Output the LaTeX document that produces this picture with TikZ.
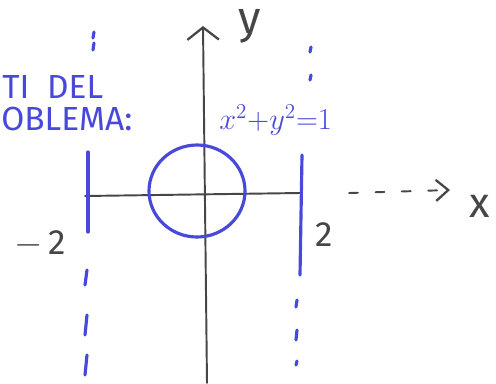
\documentclass[tikz,border=0pt]{standalone}
\usepackage{fontspec}
\setsansfont{Fira Sans}
\usetikzlibrary{arrows.meta}
\definecolor{pen}{RGB}{72,72,218}
\definecolor{lead}{RGB}{70,70,70}

\begin{document}
\begin{tikzpicture}[x=0.02cm,y=-0.02cm,
  axis/.style={draw=lead,line width=1.1pt,line cap=round},
  bound/.style={draw=pen,line width=1.8pt,line cap=round},
  note/.style={text=pen,font=\sffamily\fontsize{19}{23}\selectfont,anchor=west,inner sep=0pt},
  tick/.style={text=lead,font=\sffamily\fontsize{20}{24}\selectfont,inner sep=0pt}]
  \useasboundingbox (0,0) rectangle (496,383);
  % axes
  \coordinate (o) at (197,191);
  \coordinate (ybot) at (207,383);
  \coordinate (ytop) at (203,26);
  \coordinate (xl) at (85,196);
  \coordinate (xr) at (300,193);
  \coordinate (xtip) at (450,190);
  \draw[axis,-{Straight Barb[length=7pt,width=18pt,line width=1.3pt]}] (ybot) -- (ytop);
  \draw[axis] (xl) -- (xr);
  \draw[axis,dash pattern=on 5pt off 10pt,-{Straight Barb[length=7pt,width=12pt,line width=1.3pt]}] ([xshift=28]xr) -- (xtip);
  \node[tick,font=\sffamily\fontsize{26}{30}\selectfont] (ylab) at (250,26) {y};
  \node[tick,font=\sffamily\fontsize{24}{28}\selectfont] (xlab) at (480,206) {x};
  \node[tick] (mtwo) at (40,244) {$-$\,2};
  \node[tick] (two) at (324,235) {2};
  % circle
  \draw[bound] (o) ellipse (48 and 46);
  \node[note,font=\fontsize{17}{20}\selectfont] (eq) at (219,120) {$x^2{+}y^2{=}1$};
  % vertical boundaries
  \draw[bound] (88,152) -- (88,232);
  \draw[bound] (302,155) -- (300,275);
  \foreach \a/\b in {270/285,315/335,355/375} \draw[bound] (87,\a) -- (85,\b);
  \foreach \a/\b in {32/38,43/50} \draw[bound] (94,\a) -- (93,\b);
  \foreach \a/\b in {47/52,75/80} \draw[bound] (311,\a) -- (310,\b);
  \foreach \a/\b in {300/307,330/340,361/365} \draw[bound] (297,\a) -- (296,\b);
  % text
  \node[note] (t1) at (2,87) {TI\ \ DEL};
  \node[note] (t2) at (1,119) {OBLEMA:};
\end{tikzpicture}
\end{document}
